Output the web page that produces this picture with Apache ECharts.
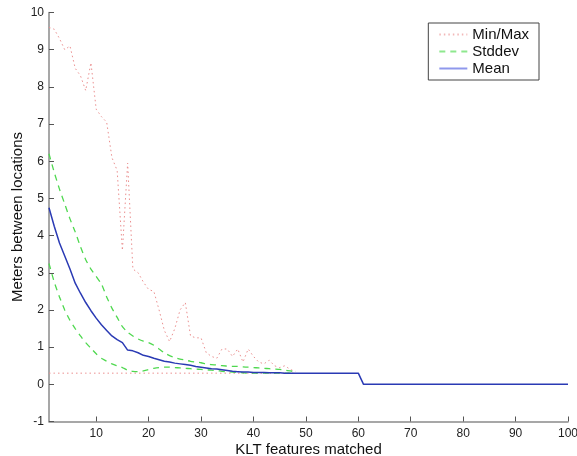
<!DOCTYPE html>
<html>
<head>
<meta charset="utf-8">
<script src="https://cdn.jsdelivr.net/npm/echarts@6/dist/echarts.min.js"></script>
<style>html,body{margin:0;padding:0;background:#fff;}#c{width:577px;height:456px;}</style>
</head>
<body>
<div id="c"></div>
<script>
// x positions (KLT features matched) for the band series
const xBand = [1,2,3,4,5,6,7,8,9,10,11,12,13,14,15,16,17,18,19,20,21,22,23,24,25,26,27,28,29,30,31,32,33,34,35,36,37,38,39,40,41,42,43,44,45,46,47,48];
const maxVals = [9.6,9.55,9.3,9.0,9.1,8.5,8.3,7.9,8.65,7.4,7.2,7.05,6.1,5.75,3.6,5.95,3.1,3.0,2.75,2.55,2.5,2.0,1.45,1.15,1.5,2.0,2.2,1.3,1.25,1.25,0.85,0.75,0.7,0.95,0.95,0.75,0.95,0.6,0.95,0.75,0.6,0.55,0.65,0.5,0.45,0.5,0.4,0.35];
const minVals = [0.3,0.3,0.3,0.3,0.3,0.3,0.3,0.3,0.3,0.3,0.3,0.3,0.3,0.3,0.3,0.3,0.3,0.3,0.3,0.3,0.3,0.3,0.3,0.3,0.3,0.3,0.3,0.3,0.3,0.3,0.3,0.3,0.3,0.3,0.3,0.3,0.3,0.3,0.3,0.3,0.3,0.3,0.3,0.3,0.3,0.3,0.3,0.3];
const stdUpper = [6.2,5.7,5.25,4.85,4.45,4.1,3.7,3.35,3.1,2.9,2.7,2.35,2.05,1.8,1.55,1.4,1.3,1.22,1.16,1.12,1.05,0.95,0.85,0.77,0.72,0.68,0.65,0.62,0.6,0.58,0.55,0.53,0.52,0.5,0.49,0.48,0.48,0.47,0.46,0.45,0.44,0.43,0.42,0.41,0.4,0.38,0.36,0.34];
const stdLower = [3.25,2.75,2.35,2.0,1.72,1.5,1.3,1.12,0.97,0.82,0.7,0.62,0.55,0.5,0.45,0.38,0.35,0.34,0.36,0.4,0.43,0.45,0.46,0.46,0.45,0.44,0.43,0.42,0.41,0.4,0.39,0.38,0.37,0.35,0.34,0.33,0.32,0.31,0.3,0.3,0.3,0.3,0.3,0.3,0.3,0.3,0.3,0.3];
// mean series x positions and values
const xMean = [1,2,3,4,5,6,7,8,9,10,11,12,13,14,15,16,17,18,19,20,21,22,23,24,25,26,27,28,29,30,31,32,33,34,35,36,37,38,39,40,41,42,43,44,45,46,47,48,60,61,100];
const meanVals = [4.75,4.25,3.8,3.45,3.1,2.72,2.45,2.2,1.98,1.78,1.6,1.45,1.3,1.2,1.12,0.92,0.9,0.85,0.78,0.75,0.7,0.66,0.62,0.6,0.57,0.55,0.53,0.51,0.48,0.46,0.44,0.42,0.41,0.39,0.37,0.35,0.34,0.33,0.33,0.32,0.32,0.32,0.31,0.31,0.31,0.3,0.3,0.3,0.3,0,0];
const xTicks = [10,20,30,40,50,60,70,80,90,100];

const pair = (xs, ys) => xs.map((x, i) => [x, ys[i]]);
const font = 'Liberation Sans, Arial, Helvetica, sans-serif';
const red = '#eb8f8f', green = '#4fd84f', blue = '#2a3ab4';

const chart = echarts.init(document.getElementById('c'), null, {renderer: 'canvas'});
chart.setOption({
  animation: false,
  backgroundColor: '#ffffff',
  grid: {left: 49, right: 9, top: 12.5, bottom: 34.5, containLabel: false, outerBoundsMode: 'none'},
  legend: {
    orient: 'vertical', right: 38, top: 23,
    backgroundColor: '#fff', borderColor: '#444', borderWidth: 1,
    padding: [4, 10, 4, 10], itemGap: 2, itemWidth: 28, itemHeight: 12,
    itemStyle: {opacity: 0},
    textStyle: {fontFamily: font, fontSize: 15, color: '#111'},
    data: [
      {name: 'Min/Max', lineStyle: {color: '#f2b8b8'}},
      {name: 'Stddev', lineStyle: {color: '#8ee88e'}},
      {name: 'Mean', lineStyle: {color: '#8f98ec'}}
    ]
  },
  xAxis: {
    type: 'value', min: 1, max: 100,
    name: 'KLT features matched', nameLocation: 'middle', nameGap: 21, nameMoveOverlap: false,
    nameTextStyle: {fontFamily: font, fontSize: 15, color: '#111'},
    axisLine: {onZero: false, lineStyle: {color: '#8a8a8a', width: 1.5}},
    axisTick: {inside: true, length: 5, customValues: xTicks, lineStyle: {color: '#555'}},
    axisLabel: {customValues: xTicks, fontFamily: font, fontSize: 12, color: '#222', margin: 6},
    splitLine: {show: false}
  },
  yAxis: {
    type: 'value', min: -1, max: 10, interval: 1,
    name: 'Meters between locations', nameLocation: 'middle', nameGap: 24, nameMoveOverlap: false,
    nameTextStyle: {fontFamily: font, fontSize: 15, color: '#111'},
    axisLine: {show: true, onZero: false, lineStyle: {color: '#8a8a8a', width: 1.5}},
    axisTick: {show: true, inside: true, length: 5, lineStyle: {color: '#555'}},
    axisLabel: {fontFamily: font, fontSize: 12, color: '#222', margin: 5},
    splitLine: {show: false}
  },
  series: [
    {name: 'Min/Max', type: 'line', data: pair(xBand, maxVals), symbol: 'none',
     lineStyle: {color: red, width: 1, type: [1.5, 3]}, itemStyle: {color: red}},
    {name: 'Min/Max', type: 'line', data: pair(xBand, minVals), symbol: 'none',
     lineStyle: {color: red, width: 1, type: [1.5, 3]}, itemStyle: {color: red}},
    {name: 'Stddev', type: 'line', data: pair(xBand, stdUpper), symbol: 'none', smooth: 0.2,
     lineStyle: {color: green, width: 1.3, type: [6, 5]}, itemStyle: {color: green}},
    {name: 'Stddev', type: 'line', data: pair(xBand, stdLower), symbol: 'none', smooth: 0.2,
     lineStyle: {color: green, width: 1.3, type: [6, 5]}, itemStyle: {color: green}},
    {name: 'Mean', type: 'line', data: pair(xMean, meanVals), symbol: 'none',
     lineStyle: {color: blue, width: 1.5}, itemStyle: {color: blue}}
  ]
});
</script>
</body>
</html>
